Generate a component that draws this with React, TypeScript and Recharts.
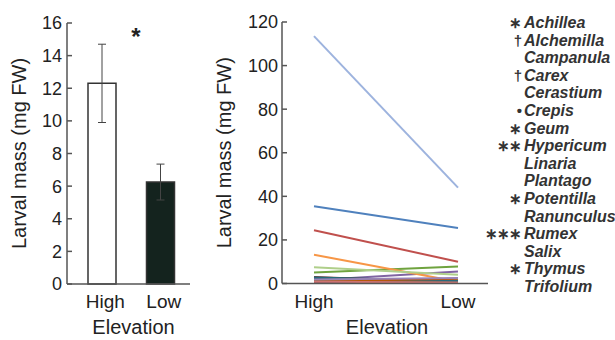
import React from 'react';
import { BarChart, Bar, Cell, ErrorBar, LineChart, Line, XAxis, YAxis, Label } from 'recharts';

const elevations = ['High', 'Low'];
const barMeans = [12.3, 6.25];
const barErrors = [2.4, 1.1];
const leftTicks = [0, 2, 4, 6, 8, 10, 12, 14, 16];
const rightTicks = [0, 20, 40, 60, 80, 100, 120];

const species = [
  'Achillea', 'Alchemilla', 'Campanula', 'Carex', 'Cerastium', 'Crepis', 'Geum', 'Hypericum',
  'Linaria', 'Plantago', 'Potentilla', 'Ranunculus', 'Rumex', 'Salix', 'Thymus', 'Trifolium',
];
const marks = ['∗', '†', '', '†', '', '•', '∗', '∗∗', '', '', '∗', '', '∗∗∗', '', '∗', ''];
const highMass = [35.5, 24.4, 5.0, 1.5, 2.0, 13.2, 2.5, 3.0, 1.2, 0.6, 2.8, 1.0, 113.5, 0.8, 7.5, 1.8];
const lowMass = [25.5, 10.0, 7.8, 5.5, 1.5, 0.8, 1.0, 0.5, 1.0, 0.4, 1.2, 2.2, 44, 0.5, 4.0, 2.5];

const palette = [
  '#4F81BD', '#C0504D', '#6FA33E', '#8064A2', '#4BACC6', '#F79646', '#2C4D75', '#772C2A',
  '#5F7530', '#4D3B62', '#276A7C', '#B65708', '#9DB3DE', '#CD7371', '#AFCF8A', '#9983B5',
];

const font = '"Liberation Sans", Arial, sans-serif';
const ink = '#222';
const axisColor = '#555';

const barData = elevations.map((e, i) => ({ elevation: e, mean: barMeans[i], err: barErrors[i] }));
const lineData = [highMass, lowMass].map((vals, i) => {
  const row: Record<string, number | string> = { elevation: elevations[i] };
  species.forEach((s, j) => { row[s] = vals[j]; });
  return row;
});

const tickStyle = { fontSize: 18, fill: ink, fontFamily: font };

const App: React.FC = () => {
  return (
    <div style={{ position: 'absolute', left: 0, top: 0, width: 615, height: 340, background: '#fff', fontFamily: font, overflow: 'hidden' }}>
      <div style={{ position: 'absolute', left: 0, top: 0 }}>
        <BarChart width={200} height={340} data={barData} margin={{ top: 23, right: 10, left: 0, bottom: 0 }}>
          <XAxis
            dataKey="elevation"
            height={56}
            padding={{ left: 6, right: 0 }}
            tickLine={false}
            tickMargin={5}
            tick={{ ...tickStyle, fontSize: 19, dx: 3 }}
            axisLine={{ stroke: axisColor, strokeWidth: 1.5 }}
          >
            <Label value="Elevation" position="insideBottom" offset={6} dx={5} style={{ fontSize: 20, fill: ink, fontFamily: font }} />
          </XAxis>
          <YAxis
            width={67}
            domain={[0, 16]}
            ticks={leftTicks}
            interval={0}
            tickSize={-5}
            tickMargin={10}
            tick={tickStyle}
            tickLine={{ stroke: axisColor, strokeWidth: 1.5 }}
            axisLine={{ stroke: axisColor, strokeWidth: 1.5 }}
          >
            <Label value="Larval mass (mg FW)" angle={-90} position="center" dx={-15} style={{ fontSize: 20, fill: ink, fontFamily: font }} />
          </YAxis>
          <Bar dataKey="mean" barSize={28} stroke="#333" strokeWidth={1.5} isAnimationActive={false}>
            {barData.map((d, i) => (
              <Cell key={d.elevation} fill={i === 0 ? '#ffffff' : '#14231e'} />
            ))}
            <ErrorBar dataKey="err" width={4} stroke="#444" strokeWidth={1} direction="y" />
          </Bar>
          <text x={136} y={45} textAnchor="middle" fontSize={24} fontWeight="bold" fill={ink} fontFamily={font}>*</text>
        </BarChart>
      </div>

      <div style={{ position: 'absolute', left: 200, top: 0 }}>
        <LineChart width={290} height={340} data={lineData} margin={{ top: 22, right: 2, left: 0, bottom: 0 }}>
          <XAxis
            dataKey="elevation"
            height={56.5}
            padding={{ left: 32, right: 30 }}
            tickLine={false}
            tickMargin={5}
            tick={{ ...tickStyle, fontSize: 19 }}
            axisLine={{ stroke: axisColor, strokeWidth: 1.5 }}
          >
            <Label value="Elevation" position="insideBottom" offset={6} dx={2} style={{ fontSize: 20, fill: ink, fontFamily: font }} />
          </XAxis>
          <YAxis
            width={82}
            domain={[0, 120]}
            ticks={rightTicks}
            interval={0}
            tickSize={-5}
            tickMargin={9}
            tick={tickStyle}
            tickLine={{ stroke: axisColor, strokeWidth: 1.5 }}
            axisLine={{ stroke: axisColor, strokeWidth: 1.5 }}
          >
            <Label value="Larval mass (mg FW)" angle={-90} position="center" dx={-17} style={{ fontSize: 20, fill: ink, fontFamily: font }} />
          </YAxis>
          {species.map((s, i) => (
            <Line
              key={s}
              dataKey={s}
              stroke={palette[i]}
              strokeWidth={2}
              dot={false}
              isAnimationActive={false}
            />
          ))}
        </LineChart>
      </div>

      <div style={{ position: 'absolute', left: 480, top: 14, width: 140 }}>
        {species.map((s, i) => (
          <div key={s} style={{ display: 'flex', height: 17.6, lineHeight: '17.6px', fontSize: 16, color: ink }}>
            <span style={{ width: 41, textAlign: 'right', fontSize: 15, fontWeight: 'bold', color: '#333', whiteSpace: 'nowrap', letterSpacing: -1 }}>{marks[i]}</span>
            <span style={{ fontStyle: 'italic', fontWeight: 'bold', whiteSpace: 'nowrap', paddingLeft: 3, color: '#333' }}>{s}</span>
          </div>
        ))}
      </div>
    </div>
  );
};

export default App;
